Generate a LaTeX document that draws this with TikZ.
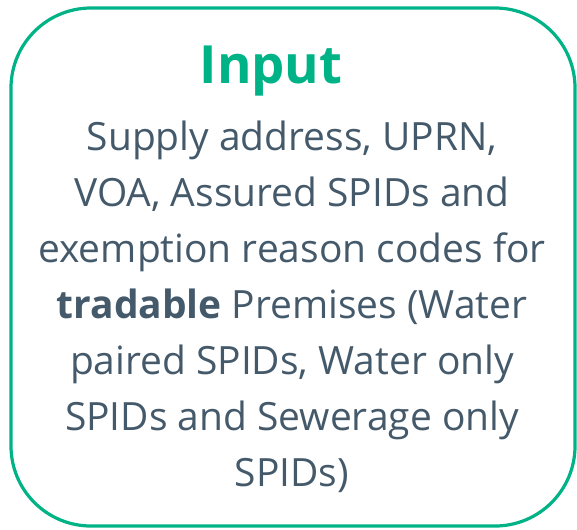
\documentclass[tikz,border=0pt]{standalone}
\usepackage{fontspec}
\setmainfont{Open Sans}
\definecolor{boxgreen}{HTML}{00B386}
\definecolor{slate}{HTML}{44596A}
\tikzset{
  box/.style={draw=boxgreen, line width=2.4pt, rounded corners=60pt},
  title/.style={text=boxgreen, font=\fontsize{39.5}{46}\selectfont\bfseries, inner sep=0pt, anchor=base},
  body/.style={text=slate, font=\fontsize{29.2}{42}\selectfont, align=center, inner sep=0pt, anchor=north},
}
\begin{document}
\begin{tikzpicture}[x=0.75pt,y=-0.75pt]
\useasboundingbox (0,0) rectangle (577,529);
\draw[box] (11,8) rectangle (575,526);
\node[title] (ttl) at (271,83) {Input};
\node[body] (txt) at (292,121) {Supply address, UPRN,\\VOA, Assured SPIDs and\\exemption reason codes for\\\textbf{tradable} Premises (Water\\paired SPIDs, Water only\\SPIDs and Sewerage only\\SPIDs)};
\end{tikzpicture}
\end{document}
